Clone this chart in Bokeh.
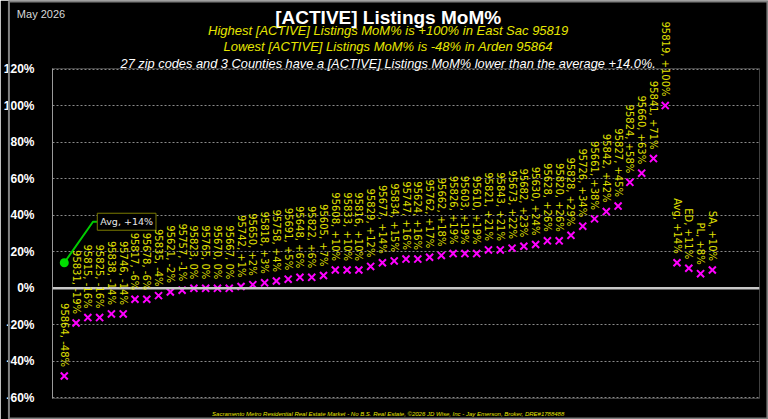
import math
from bokeh.plotting import figure
from bokeh.models import (ColumnDataSource, Label, Span, FixedTicker, PrintfTickFormatter)
from bokeh.core.properties import value
from bokeh.embed import file_html
from bokeh.resources import INLINE

# ---------------- data ----------------
zips = ["95864", "95831", "95815", "95825", "95838", "95746", "95817", "95678",
        "95835", "95621", "95757", "95823", "95765", "95670", "95667", "95742",
        "95650", "95818", "95758", "95691", "95648", "95822", "95605", "95608",
        "95833", "95816", "95829", "95677", "95834", "95747", "95624", "95762",
        "95662", "95826", "95603", "95610", "95821", "95843", "95673", "95682",
        "95630", "95628", "95820", "95828", "95726", "95661", "95842", "95827",
        "95824", "95660", "95841", "95819"]
zip_values = [-48, -19, -16, -16, -14, -14, -6, -6,
              -4, -2, -1, 0, 0, 0, 0, 1,
              2, 3, 4, 5, 6, 6, 7, 10,
              10, 10, 12, 14, 15, 16, 16, 17,
              18, 19, 19, 19, 21, 21, 22, 23,
              24, 26, 26, 29, 34, 38, 42, 45,
              58, 63, 71, 100]
groups = ["Avg", "ED", "PL", "SA"]
group_values = [14, 11, 8, 10]
average = 14.0
y_ticks = [-60, -40, -20, 0, 20, 40, 60, 80, 100, 120]

title_text = "[ACTIVE] Listings MoM%"
date_text = "May 2026"
high_text = "Highest [ACTIVE] Listings MoM% is +100% in East Sac 95819"
low_text = "Lowest [ACTIVE] Listings MoM% is -48% in Arden 95864"
note_text = "27 zip codes and 3 Counties have a [ACTIVE] Listings MoM% lower than the average +14.0%."
footer_text = ("Sacramento Metro Residential Real Estate Market - No B.S. Real Estate, "
               "\u00a92026 JD Wise, Inc - Jay Emerson, Broker, DRE#1788488")

# ---------------- layout ----------------
W, H = 768, 419
BL, BR, BT, BB = 45, 9, 68, 21
x_start, x_end = -1.0, 59.0
y_start, y_end = -60.3, 120.3
FW, FH = W - BL - BR, H - BT - BB


def dx(px):
    return x_start + (px - BL) * (x_end - x_start) / FW


def dy(py):
    return y_end - (py - BT) * (y_end - y_start) / FH


names = zips + groups
vals = zip_values + group_values
xs = list(range(len(names)))


def fmt(n, v):
    return f"{n}, {v:+d}%" if v != 0 else f"{n}, 0%"


labels = [fmt(n, v) for n, v in zip(names, vals)]
src = ColumnDataSource(dict(x=xs, y=vals, label=labels))

p = figure(width=W, height=H, x_range=(x_start, x_end), y_range=(y_start, y_end),
           output_backend="svg", toolbar_location=None,
           min_border_left=BL, min_border_right=BR, min_border_top=BT, min_border_bottom=BB,
           background_fill_color="black", border_fill_color="black",
           outline_line_color=None)

p.xaxis.visible = False
p.xgrid.grid_line_color = None
p.ygrid.grid_line_color = "#8a8a8a"
p.ygrid.grid_line_dash = "2 2"
p.ygrid.grid_line_width = 1

ax = p.yaxis[0]
ax.ticker = FixedTicker(ticks=y_ticks)
ax.formatter = PrintfTickFormatter(format="%d%%")
ax.major_label_text_color = "white"
ax.major_label_text_font = "Liberation Sans"
ax.major_label_text_font_style = "bold"
ax.major_label_text_font_size = "12px"
ax.major_label_standoff = 12
ax.major_tick_line_color = None
ax.minor_tick_line_color = None
ax.axis_line_color = "#9a9a9a"
ax.axis_line_width = 1

p.add_layout(Span(location=0, dimension="width", line_color="#c8c8c8", line_width=2.5))

p.scatter("x", "y", source=src, marker="x", size=10, line_color="#ff00ff", line_width=2)

p.text("x", "y", text="label", source=src, angle=-math.pi / 2,
       text_align="right", text_baseline="middle", y_offset=-9,
       text_font=value("DejaVu Sans"), text_font_size="10px",
       text_color="#e0e000", level="overlay")

# average callout
ax0, ay0 = xs[0], average
px_x = FW / (x_end - x_start)
px_y = FH / (y_end - y_start)
elbow_x, elbow_y = ax0 + 29 / px_x, ay0 + 41 / px_y
end_x = ax0 + 33 / px_x
p.line([ax0, elbow_x, end_x], [ay0, elbow_y, elbow_y], line_color="#00cc00", line_width=2)
p.scatter([ax0], [ay0], size=9, fill_color="#00dd00", line_color=None)
p.add_layout(Label(x=ax0, y=ay0, x_offset=33, y_offset=41, text=fmt("Avg", int(average)),
                   text_align="left", text_baseline="middle",
                   text_font="DejaVu Sans", text_font_size="9.5px",
                   text_color="#e8e8e8", border_line_color="#7a7a00", border_line_width=1,
                   background_fill_color="black", padding=3))


# texts
def txt(text, px, py, size, color, style="normal", align="center", font="Liberation Sans"):
    p.text(x=[dx(px)], y=[dy(py)], text=[text], text_align=align, text_baseline="middle",
           text_font=value(font), text_font_size=size, text_color=color,
           text_font_style=style, level="overlay")


txt(title_text, 384, 17, "19px", "white", "bold")
txt(high_text, 384, 30, "13px", "#e6e600", "italic")
txt(low_text, 384, 46, "13px", "#e6e600", "italic")
txt(note_text, 384, 63, "12.8px", "white", "italic")
txt(date_text, 9, 13, "11px", "#d8d8d8", "normal", "left")
txt(footer_text, 384, 413, "6px", "#e6e600", "italic")

# outer gray frame
p.quad(left=[dx(1)], right=[dx(767)], top=[dy(1)], bottom=[dy(418)],
       fill_color=None, line_color="#808080", line_width=2, level="overlay")

open("out.html", "w").write(file_html(p, INLINE))
